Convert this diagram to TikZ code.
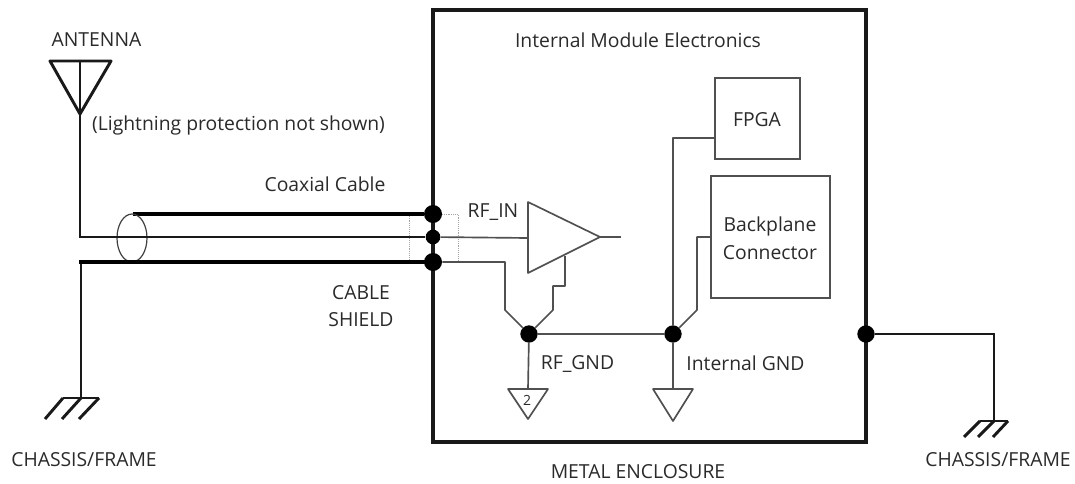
\documentclass[tikz,border=0pt]{standalone}
\usepackage{fontspec}
\usetikzlibrary{shapes.geometric}
\setmainfont{Open Sans}
\definecolor{txt}{HTML}{2A2A2A}
\definecolor{wire}{HTML}{505050}
\tikzset{
  lbl/.style={inner sep=0pt,text=txt,font=\fontsize{14.5pt}{20pt}\selectfont,align=center},
  encl/.style={draw=black!90,line width=3pt},
  coax/.style={draw=black,line width=2.6pt},
  lead/.style={draw=black!90,line width=2.2pt},
  wirethin/.style={draw=wire,line width=1.25pt,line join=round},
  boxb/.style={draw=wire,line width=1.25pt,fill=white,inner sep=0pt,minimum width=0pt},
  dotb/.style={circle,fill=black,inner sep=0pt,minimum size=#1},
  guide/.style={draw=black!35,line width=0.4pt,densely dotted}
}
\begin{document}
\begin{tikzpicture}[x=0.75pt,y=-0.75pt]
\useasboundingbox (0,0) rectangle (1075,483);
% enclosure
\node[encl,rectangle,inner sep=0pt,minimum width=433*0.75pt,minimum height=432*0.75pt] (enc) at (649.5,226) {};
% named points
\coordinate (antL) at (50,61); \coordinate (antR) at (111,61); \coordinate (antT) at (80,114);
\coordinate (antM) at (80,61); \coordinate (corA) at (80,237);
\coordinate (shTop) at (133,214); \coordinate (corB) at (81,262);
\coordinate (gndL) at (81,398);
\coordinate (gL1) at (63,398); \coordinate (gL2) at (99,398);
\coordinate (gL1e) at (45,419); \coordinate (gL0e) at (62,419); \coordinate (gL2e) at (79,419);
% dotted guide
\coordinate (gA) at (409,214); \coordinate (gB) at (458,262);
\draw[guide] (gA) rectangle (gB);
% ports
\node[dotb=13.5pt] (pTop) at (433,214) {};
\node[dotb=11pt] (pMid) at (433,237) {};
\node[dotb=13.5pt] (pBot) at (433,262) {};
\node[dotb=13pt] (pEnc) at (866,334) {};
% antenna
\draw[lead,line join=round] (antL) -- (antR) -- (antT) -- cycle;
\draw[lead] (antM) -- (antT);
% cable
\draw[coax] (shTop) -- (pTop);
\node[draw=black!75,line width=0.9pt,ellipse,inner sep=0pt,minimum width=30*0.75pt,minimum height=48*0.75pt] (sh) at (132,238) {};
\draw[lead,line join=miter] (antT) -- (corA) -- (pMid);
\draw[lead,line cap=rect] (gndL) -- (corB);
\draw[coax,line cap=rect] (corB) -- (pBot);
% chassis gnd left
\draw[lead] (gL1) -- (gL2);
\draw[lead] (gL1) -- (gL1e);
\draw[lead] (gndL) -- (gL0e);
\draw[lead] (gL2) -- (gL2e);
% amplifier
\coordinate (aT) at (528,202); \coordinate (aB) at (528,273); \coordinate (aTip) at (600,237);
\coordinate (aIn) at (528,238); \coordinate (aOut) at (621,237); \coordinate (aG) at (565,256);
\draw[wirethin,fill=white] (aT) -- (aTip) -- (aB) -- cycle;
\draw[wirethin] (pMid) -- (aIn);
\draw[wirethin] (aTip) -- (aOut);
% ground net
\node[dotb=13pt] (nRF) at (529,334) {};
\node[dotb=13pt] (nInt) at (673,334) {};
\coordinate (b1) at (505,262); \coordinate (b2) at (505,310);
\coordinate (c1) at (565,286); \coordinate (c2) at (553,286); \coordinate (c3) at (553,310);
\draw[wirethin] (pBot) -- (b1) -- (b2) -- (nRF);
\draw[wirethin] (aG) -- (c1) -- (c2) -- (c3) -- (nRF);
\draw[wirethin] (nRF) -- (nInt);
% grounds
\coordinate (t1) at (508,389); \coordinate (t2) at (548,389); \coordinate (t3) at (528,419); \coordinate (t0) at (528,389);
\draw[wirethin] (t1) -- (t2) -- (t3) -- cycle;
\draw[wirethin] (nRF) -- (t0);
\coordinate (u1) at (653,389); \coordinate (u2) at (693,389); \coordinate (u3) at (673,421); \coordinate (u0) at (673,389);
\draw[wirethin] (u1) -- (u2) -- (u3) -- cycle;
\draw[wirethin] (nInt) -- (u0);
\node[lbl,font=\fontsize{10.5pt}{12pt}\selectfont] (two) at (527,400) {2};
% boxes
\node[boxb,minimum width=85*0.75pt,minimum height=81*0.75pt] (fpga) at (757.5,118.5) {};
\node[lbl] (fpgaT) at (757,120) {FPGA};
\node[boxb,minimum width=119*0.75pt,minimum height=122*0.75pt] (bp) at (770.5,237) {};
\node[lbl] (bpT) at (770,238.5) {Backplane\\[1pt]Connector};
\coordinate (f1) at (673,138); \coordinate (f2) at (715,138);
\draw[wirethin] (nInt) -- (f1) -- (f2);
\coordinate (k1) at (697,310); \coordinate (k2) at (697,237); \coordinate (k3) at (711,237);
\draw[wirethin] (nInt) -- (k1) -- (k2) -- (k3);
% right chassis
\coordinate (r1) at (994,334); \coordinate (r2) at (994,421);
\coordinate (s1) at (980,421); \coordinate (s2) at (1008,421);
\coordinate (s1e) at (964,437); \coordinate (s0e) at (978,437); \coordinate (s2e) at (993,437);
\draw[lead] (pEnc) -- (r1) -- (r2);
\draw[lead] (s1) -- (s2);
\draw[lead] (s1) -- (s1e);
\draw[lead] (r2) -- (s0e);
\draw[lead] (s2) -- (s2e);
% labels
\node[lbl] (lAnt) at (96.5,40) {ANTENNA};
\node[lbl] (lLight) at (238.5,125.5) {(Lightning protection not shown)};
\node[lbl] (lCoax) at (325,184.5) {Coaxial Cable};
\node[lbl] (lRfin) at (493,212) {RF\_IN};
\node[lbl] (lShield) at (361,306) {CABLE\\SHIELD};
\node[lbl] (lChL) at (84,459.5) {CHASSIS/FRAME};
\node[lbl] (lRfg) at (577.5,364) {RF\_GND};
\node[lbl] (lIntg) at (745.5,363.5) {Internal GND};
\node[lbl] (lMod) at (638,40) {Internal Module Electronics};
\node[lbl] (lMetal) at (638,471.5) {METAL ENCLOSURE};
\node[lbl] (lChR) at (998,459.5) {CHASSIS/FRAME};
\end{tikzpicture}
\end{document}
